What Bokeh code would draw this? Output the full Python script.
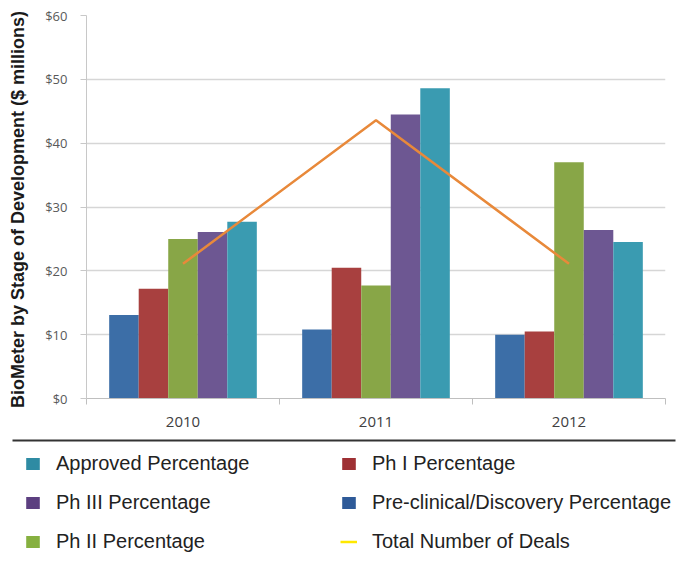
from bokeh.plotting import figure
from bokeh.models import (ColumnDataSource, FixedTicker, NumeralTickFormatter, Range1d,
                          Legend, LegendItem, LinearAxis)
from bokeh.layouts import column, row
from bokeh.embed import file_html
from bokeh.resources import INLINE
from bokeh.transform import dodge

# ---- data ----
years = ["2010", "2011", "2012"]
preclinical = [13.1, 10.8, 10.0]
ph1 = [17.2, 20.5, 10.5]
ph2 = [25.0, 17.7, 37.0]
ph3 = [26.1, 44.5, 26.4]
approved = [27.7, 48.6, 24.5]
total_deals = [21.1, 43.6, 21.1]
y_ticks = [0, 10, 20, 30, 40, 50, 60]

series_names = ["Pre-clinical/Discovery Percentage", "Ph I Percentage", "Ph II Percentage",
                "Ph III Percentage", "Approved Percentage"]
series_values = [preclinical, ph1, ph2, ph3, approved]
bar_colors = ["#3C6EA7", "#A8403F", "#88A647", "#6D5792", "#3A9BB1"]
legend_colors = ["#2E5A98", "#9E3034", "#86B040", "#5C3F80", "#2E8BA3"]
line_color = "#E8893A"
legend_line_color = "#FFE800"
line_name = "Total Number of Deals"

centers = [i + 0.5 for i in range(len(years))]
data = dict(x=centers, deals=total_deals)
for i, vals in enumerate(series_values):
    data["s%d" % i] = vals
src = ColumnDataSource(data)

# ---- chart ----
p = figure(width=684, height=432, x_range=Range1d(0, len(years)), y_range=Range1d(0, 60),
           output_backend="svg", toolbar_location=None,
           min_border_left=86, min_border_right=19, min_border_top=15, min_border_bottom=34)
p.outline_line_color = None

bw = 0.153
for i in range(len(series_values)):
    p.vbar(x=dodge("x", (i - 2) * bw, range=p.x_range), top="s%d" % i, width=bw,
           source=src, fill_color=bar_colors[i], line_color=None)

p.line(x="x", y="deals", source=src, line_color=line_color, line_width=2.5)

p.yaxis.ticker = FixedTicker(ticks=y_ticks)
p.yaxis.formatter = NumeralTickFormatter(format="$0")
p.yaxis.axis_line_color = "#C8C8C8"
p.yaxis.major_tick_line_color = "#C8C8C8"
p.yaxis.major_tick_in = 0
p.yaxis.major_tick_out = 6
p.yaxis.minor_tick_line_color = None
p.yaxis.major_label_text_font = "Open Sans"
p.yaxis.major_label_text_font_size = "13px"
p.yaxis.major_label_text_color = "#595959"
p.yaxis.major_label_standoff = 13
p.yaxis.axis_label = "BioMeter by Stage of Development  ($ millions)"
p.yaxis.axis_label_text_font = "Liberation Sans"
p.yaxis.axis_label_text_font_style = "bold"
p.yaxis.axis_label_text_font_size = "18px"
p.yaxis.axis_label_text_color = "#1A1A1A"
p.yaxis.axis_label_standoff = 14

p.xaxis.ticker = FixedTicker(ticks=centers, minor_ticks=list(range(len(years) + 1)))
p.xaxis.major_label_overrides = {c: y for c, y in zip(centers, years)}
p.xaxis.axis_line_color = "#BFBFBF"
p.xaxis.major_tick_line_color = None
p.xaxis.major_tick_in = 0
p.xaxis.major_tick_out = 0
p.xaxis.minor_tick_line_color = "#BFBFBF"
p.xaxis.minor_tick_in = 0
p.xaxis.minor_tick_out = 6
p.xaxis.major_label_text_font = "Open Sans"
p.xaxis.major_label_text_font_size = "15px"
p.xaxis.major_label_text_color = "#404040"
p.xaxis.major_label_standoff = 12

p.xgrid.visible = False
p.ygrid.ticker = FixedTicker(ticks=y_ticks)
p.ygrid.grid_line_color = "#D6D6D6"
p.ygrid.grid_line_width = 1.5

# ---- legend panel ----
p2 = figure(width=684, height=129, x_range=Range1d(0, 1), y_range=Range1d(0, 1),
            output_backend="svg", toolbar_location=None,
            x_axis_location=None, y_axis_location=None,
            min_border_left=12, min_border_right=9, min_border_top=8, min_border_bottom=0)
p2.outline_line_color = None
p2.grid.visible = False
sep = LinearAxis(ticker=FixedTicker(ticks=[]), axis_line_color="#333333", axis_line_width=2,
                 major_tick_line_color=None, minor_tick_line_color=None,
                 major_label_text_font_size="0px")
p2.add_layout(sep, "above")

nan = float("nan")
leg_r = {}
for i, name in enumerate(series_names):
    leg_r[name] = p2.vbar(x=[nan], top=[nan], width=0.1, fill_color=legend_colors[i], line_color=None)
leg_r[line_name] = p2.line(x=[nan], y=[nan], line_color=legend_line_color, line_width=2.5)

order = ["Approved Percentage", "Ph III Percentage", "Ph II Percentage",
         "Ph I Percentage", "Pre-clinical/Discovery Percentage", line_name]
legend = Legend(items=[LegendItem(label=n, renderers=[leg_r[n]]) for n in order],
                location="top_left", orientation="vertical", ncols=2,
                spacing=16, label_width=268, label_standoff=15,
                glyph_width=17, glyph_height=15, padding=0, margin=12,
                border_line_color=None, background_fill_alpha=0,
                label_text_font="Liberation Sans", label_text_font_size="20px",
                label_text_color="#222222")
p2.add_layout(legend, "center")

layout = column(p, row(p2))
open("out.html", "w").write(file_html(layout, INLINE))
